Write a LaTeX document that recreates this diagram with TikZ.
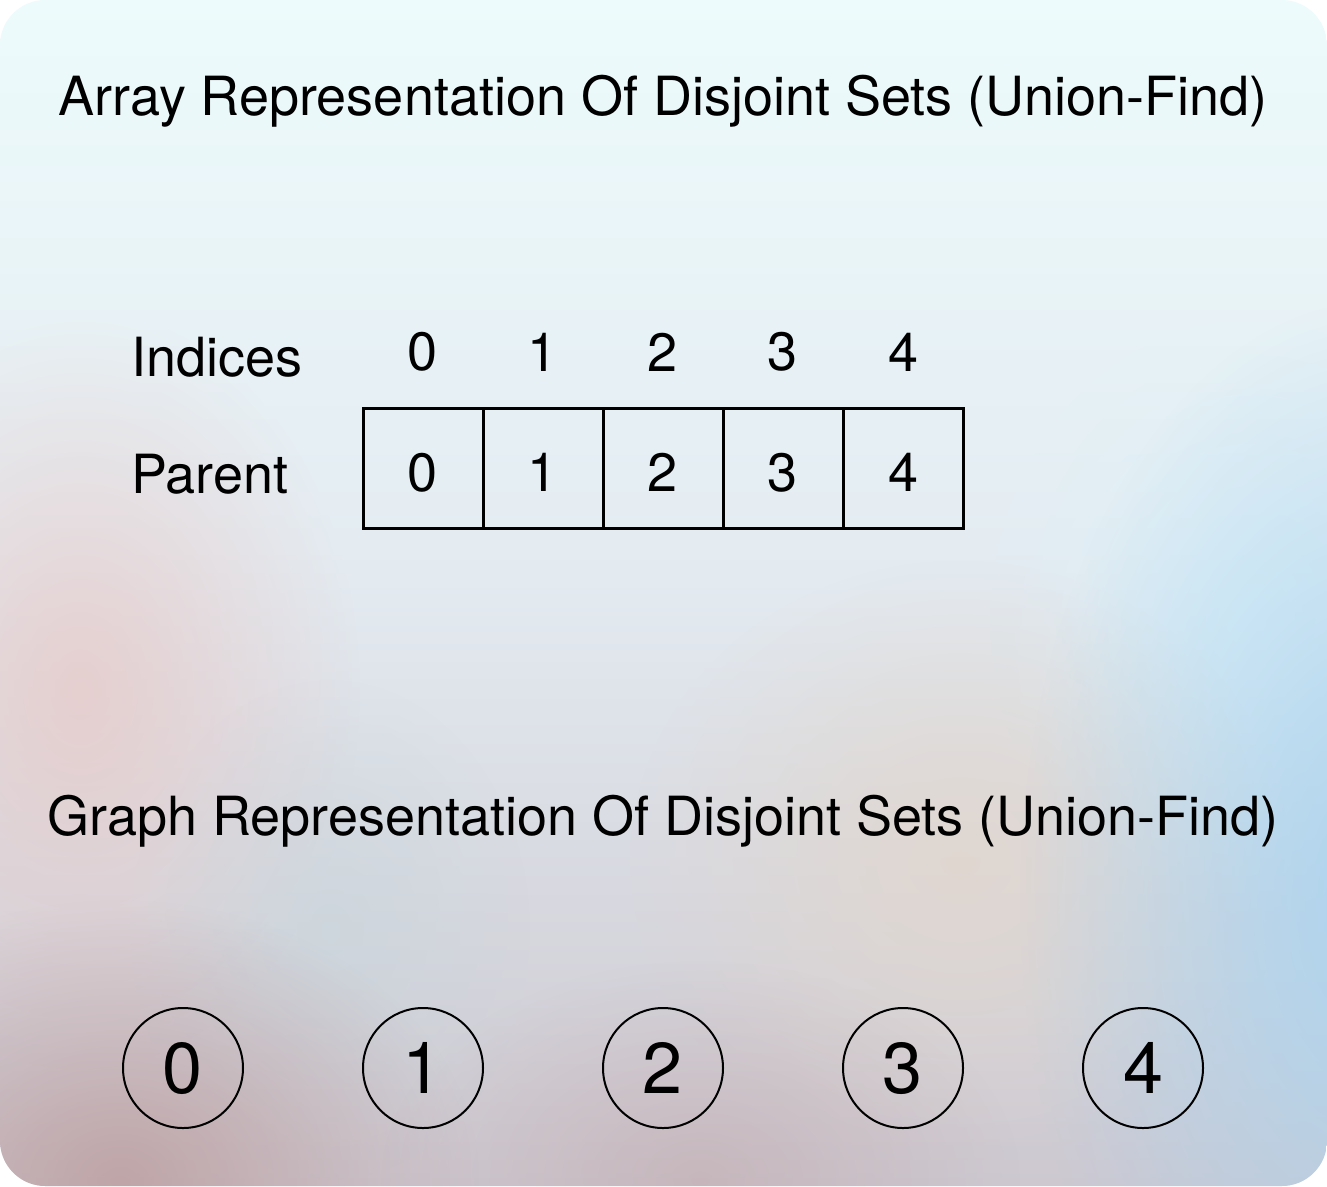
\documentclass[tikz,border=0pt]{standalone}
\usepackage{fontspec}
\setmainfont{TeX Gyre Heros}
\usetikzlibrary{fadings}
\definecolor{bgtop}{RGB}{238,253,253}
\definecolor{bgmid}{RGB}{228,236,242}
\definecolor{bgmidb}{RGB}{205,200,208}
\definecolor{bgbot}{RGB}{180,164,170}
\definecolor{blobblue}{RGB}{170,212,240}
\definecolor{blobcyan}{RGB}{220,242,250}
\definecolor{blobbeige}{RGB}{226,214,204}
\definecolor{blobpink}{RGB}{232,200,198}
\definecolor{blobbrown}{RGB}{185,150,150}
\definecolor{blobgrey}{RGB}{200,214,220}
\pgfdeclareverticalshading{bgshade}{100bp}{color(0bp)=(bgbot); color(25bp)=(bgmidb); color(52bp)=(bgmid); color(78bp)=(bgtop); color(100bp)=(bgtop)}
\tikzfading[name=softblob, inner color=transparent!0, outer color=transparent!100]
\begin{document}
\begin{tikzpicture}[x=0.75pt,y=-0.75pt,
  txt/.style={font=\fontsize{40.5}{48}\selectfont, inner sep=0pt},
  cell/.style={draw, line width=2.25pt, minimum size=90pt, inner sep=0pt, font=\fontsize{40.5}{48}\selectfont},
  vert/.style={circle, draw, line width=1.5pt, minimum size=90pt, inner sep=0pt, font=\fontsize{54}{60}\selectfont},
  blob/.style={fill=#1, path fading=softblob}]
\useasboundingbox (0,0) rectangle (1327,1186);
\fill[white] (0,0) rectangle (1327,1186);
\begin{scope}
  \clip[rounded corners=34pt] (0,0) rectangle (1327,1186);
  \shade[shading=bgshade] (0,0) rectangle (1327,1186);
  \fill[blob=blobcyan, opacity=0.8] (1250,620) ellipse [x radius=260, y radius=300];
  \fill[blob=blobpink, opacity=0.75] (80,690) ellipse [x radius=280, y radius=380];
  \fill[blob=blobbeige, opacity=0.8] (960,860) ellipse [x radius=330, y radius=300];
  \fill[blob=blobgrey, opacity=0.6] (330,930) ellipse [x radius=200, y radius=250];
  \fill[blob=blobbrown, opacity=0.7] (120,1180) ellipse [x radius=360, y radius=280];
  \fill[blob=blobblue, opacity=0.95] (1380,900) ellipse [x radius=360, y radius=600];
  \fill[blob=blobbrown, opacity=0.35] (700,1180) ellipse [x radius=320, y radius=220];
\end{scope}
% titles
\node[txt, anchor=base] (t1) at (663,115) {Array Representation Of Disjoint Sets (Union-Find)};
\node[txt, anchor=base] (t2) at (663,835) {Graph Representation Of Disjoint Sets (Union-Find)};
% labels
\node[txt, anchor=west] (lind) at (131,357) {Indices};
\node[txt, anchor=west] (lpar) at (131,474) {Parent};
% indices, parent cells, graph vertices
\foreach \i in {0,...,4} {
  \node[txt] (i\i) at (423+120*\i,352) {\i};
  \node[cell] (c\i) at (423+120*\i,468) {\raisebox{-3.5pt}[\height][0pt]{\i}};
  \node[vert] (v\i) at (183+240*\i,1068) {\i};
}
\end{tikzpicture}
\end{document}
